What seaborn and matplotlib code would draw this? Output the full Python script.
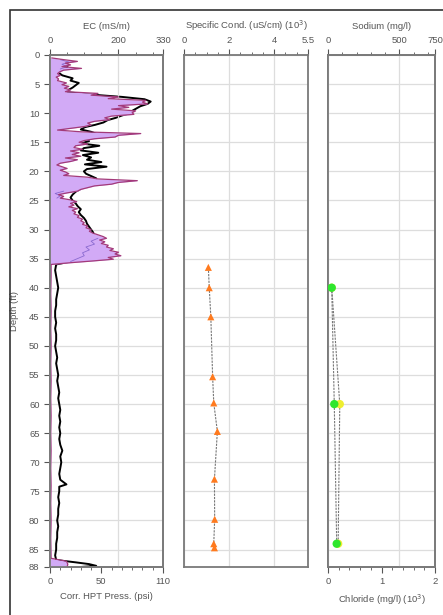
import matplotlib
matplotlib.use("Agg")
import matplotlib.pyplot as plt
from matplotlib.patches import Rectangle
from matplotlib.ticker import MultipleLocator
import seaborn as sns

# EC log (mS/m) vs depth (ft)
ec_depth = [0.5, 0.8, 1.1, 1.4, 1.7, 2.0, 2.3, 2.6, 2.9, 3.2, 3.5, 3.8, 4.1, 4.4, 4.8,
            5.1, 5.4, 5.7, 6.0, 6.3, 6.6, 6.9, 7.2, 7.5, 7.8, 8.1, 8.4, 8.7, 9.0, 9.3,
            9.6, 9.9, 10.2, 10.5, 10.8, 11.1, 11.4, 11.7, 12.0, 12.3, 12.6, 12.9, 13.2,
            13.5, 13.8, 14.1, 14.4, 14.7, 15.0, 15.3, 15.6, 15.9, 16.2, 16.5, 16.8, 17.1,
            17.4, 17.7, 18.0, 18.3, 18.6, 18.9, 19.2, 19.5, 19.8, 20.1, 20.4, 20.7, 21.0,
            21.3, 21.6, 21.9, 22.2, 22.5, 22.8, 23.1, 23.4, 23.7, 24.0, 24.3, 24.6, 24.9,
            25.2, 25.5, 25.8, 26.1, 26.4, 26.7, 27.0, 27.3, 27.6, 27.9, 28.2, 28.5, 28.8,
            29.1, 29.4, 29.7, 30.0, 30.3, 30.6, 30.9, 31.2, 31.5, 31.8, 32.1, 32.4, 32.7,
            33.0, 33.3, 33.6, 33.9, 34.2, 34.5, 34.8, 35.1, 35.4, 35.7, 36.0, 38.0, 41.0,
            44.0, 47.0, 50.0, 53.0, 56.0, 59.0, 62.0, 65.0, 68.0, 71.0, 74.0, 77.0, 80.0,
            83.0, 86.5, 87.0, 87.5, 88.0]
ec_vals = [5, 40, 80, 45, 60, 35, 92, 40, 28, 22, 30, 18, 25, 22, 48,
           35, 55, 42, 60, 45, 140, 120, 200, 170, 280, 270, 285, 200, 230, 180,
           250, 240, 245, 180, 160, 175, 130, 110, 120, 100, 60, 22, 90,
           265, 200, 190, 130, 100, 85, 110, 75, 70, 95, 60, 85, 65,
           90, 45, 80, 60, 30, 20, 35, 50, 30, 45, 55, 40, 110,
           140, 255, 200, 180, 130, 110, 90, 80, 50, 25, 40, 30, 60,
           78, 60, 70, 55, 80, 65, 75, 70, 85, 80, 95, 90, 100,
           95, 110, 105, 120, 115, 125, 140, 155, 165, 145, 160, 150, 170,
           165, 185, 175, 200, 190, 207, 170, 185, 125, 60, 3, 3, 2,
           3, 2, 3, 2, 3, 2, 3, 2, 3, 2, 3, 2, 3,
           2, 3, 48, 52, 50]

# second EC channel (lighter trace), three short stretches
ec2_top_depth = [0.8, 1.2, 1.6, 2.0, 2.4]
ec2_top_vals = [30, 55, 35, 50, 30]
ec2_mid_depth = [23.4, 23.8, 24.2, 24.6]
ec2_mid_vals = [40, 15, 30, 20]
ec2_low_depth = [31.5, 32.0, 32.5, 33.0, 33.5, 34.0, 34.5, 35.0, 35.5]
ec2_low_vals = [140, 120, 130, 105, 115, 95, 100, 80, 60]

# corrected HPT pressure (psi)
hpt_depth = [1.0, 1.5, 2.0, 2.5, 3.0, 3.5, 4.0, 4.4, 4.8, 5.2, 5.6, 6.0, 6.4, 6.8, 7.2,
             7.6, 8.0, 8.4, 8.8, 9.2, 9.6, 10.0, 10.4, 10.8, 11.2, 11.6, 12.0, 12.4, 12.8,
             13.2, 13.6, 14.0, 14.4, 14.8, 15.2, 15.6, 16.0, 16.4, 16.8, 17.2, 17.6, 18.0,
             18.4, 18.8, 19.2, 19.6, 20.0, 20.4, 20.8, 21.2, 21.6, 22.0, 22.5, 23.0, 23.5,
             24.0, 24.5, 25.0, 25.5, 26.0, 26.5, 27.0, 27.5, 28.0, 28.5, 29.0, 29.5, 30.0,
             30.5, 31.0, 31.5, 32.0, 32.5, 33.0, 33.5, 34.0, 34.5, 35.0, 35.5, 36.0, 37,
             38, 39, 40, 41, 42, 43, 44, 45, 46, 47, 48, 49, 50, 51, 52, 53, 54, 55, 56,
             57, 58, 59, 60, 61, 62, 63, 64, 65, 66, 67, 68, 69, 70, 71, 72, 73, 73.8,
             74.2, 75, 76, 77, 78, 79, 80, 81, 82, 83, 84, 85, 86, 86.8, 87.2, 87.5,
             87.8, 88.0]
hpt_vals = [12, 15, 17, 12, 8, 12, 22, 20, 28, 25, 22, 18, 17, 40, 70,
            92, 98, 95, 88, 84, 80, 78, 70, 64, 56, 52, 44, 34, 30,
            40, 46, 42, 35, 38, 30, 48, 33, 30, 47, 32, 40, 36,
            50, 34, 55, 36, 33, 35, 40, 45, 43, 40, 35, 30, 25,
            22, 20, 22, 25, 27, 30, 28, 30, 33, 35, 36, 38, 40,
            42, 43, 45, 45, 45, 45, 44, 44, 42, 40, 20, 6, 5,
            6, 7, 8, 7, 6, 6, 5, 5, 6, 5, 6, 6, 5, 6, 7, 6, 7, 8, 7,
            8, 9, 8, 9, 10, 9, 10, 9, 10, 9, 10, 12, 10, 11, 10, 9, 10, 16,
            9, 9, 8, 9, 8, 8, 7, 8, 7, 7, 6, 6, 5, 6, 25, 38,
            45, 30]

# specific conductance (uS/cm x 1000)
sc_depth = [36.5, 40.0, 45.0, 55.3, 59.8, 64.7, 72.9, 79.8, 84.0, 84.7]
sc_vals = [1.08, 1.12, 1.19, 1.27, 1.32, 1.48, 1.35, 1.36, 1.32, 1.35]

# sodium (mg/l) and chloride (mg/l x 1000)
chem_depth = [40, 60, 84]
sodium = [26, 44, 61]
chloride = [0.07, 0.22, 0.19]

depth_ticks = [0, 5, 10, 15, 20, 25, 30, 35, 40, 45, 50, 55, 60, 65, 70, 75, 80, 85, 88]

sns.set_style("white")
plt.rcParams['font.family'] = ['Liberation Sans', 'DejaVu Sans']
plt.rcParams['font.size'] = 6.8

txt = '#555555'
spine_c = '#7a7a7a'
grid_c = '#dddddd'

fig = plt.figure(figsize=(4.43, 6.15), dpi=100)
fig.add_artist(Rectangle((10 / 443, -0.05), 1.1, 1 - 10 / 615 + 0.05, transform=fig.transFigure,
                         fill=False, ec='#333333', lw=1.2))

bottom, height = 1 - 567 / 615, (567 - 55) / 615
ax1 = fig.add_axes([50 / 443, bottom, 113 / 443, height])
ax2 = fig.add_axes([184 / 443, bottom, 124 / 443, height])
ax3 = fig.add_axes([328 / 443, bottom, 107 / 443, height])


def style(ax, top, bot):
    for s in ax.spines.values():
        s.set_color(spine_c)
        s.set_linewidth(1.3)
    ax.tick_params(colors=txt, labelcolor=txt, labelsize=6.8, width=0.8, length=4,
                   top=top, bottom=bot, labeltop=top, labelbottom=bot)
    ax.tick_params(which='minor', colors=txt, width=0.6, length=2.5, top=top, bottom=bot)


# ---- panel 1: HPT pressure (bottom) + EC (top)
sns.lineplot(x=hpt_vals, y=hpt_depth, ax=ax1, orient='y', sort=False, estimator=None,
             color='black', lw=1.4)
ax1.set_xlim(0, 110)
ax1.set_xticks([0, 50, 110])
ax1.xaxis.set_minor_locator(MultipleLocator(10))
ax1.set_xlabel('Corr. HPT Press. (psi)', color=txt, labelpad=4)
ax1.set_ylabel('Depth (ft)', color=txt)
ax1.yaxis.set_label_coords(-0.27, 0.5)
ax1.set_ylim(88, 0)
ax1.set_yticks(depth_ticks)
ax1.grid(axis='y', color=grid_c, lw=0.9)
style(ax1, False, True)
ax1.tick_params(axis='y', left=True, length=4, color=txt)

ax1t = ax1.twiny()
ax1t.fill_betweenx(ec_depth, 0, ec_vals, color='#d2aaf6', lw=0)
for d, v in [(ec2_top_depth, ec2_top_vals), (ec2_mid_depth, ec2_mid_vals),
             (ec2_low_depth, ec2_low_vals)]:
    sns.lineplot(x=v, y=d, ax=ax1t, orient='y', sort=False, estimator=None,
                 color='#8a6ad0', lw=0.6)
sns.lineplot(x=ec_vals, y=ec_depth, ax=ax1t, orient='y', sort=False, estimator=None,
             color='#a33a7a', lw=0.9)
ax1t.set_xlim(0, 330)
ax1t.set_xticks([0, 200, 330])
ax1t.xaxis.set_minor_locator(MultipleLocator(50))
ax1t.set_xlabel('EC (mS/m)', color=txt, labelpad=5)
ax1t.xaxis.set_label_position('top')
ax1t.grid(axis='x', color=grid_c, lw=0.9)
ax1t.set_axisbelow(True)
ax1t.set_ylim(88, 0)
style(ax1t, True, False)

# ---- panel 2: specific conductance
sns.lineplot(x=sc_vals, y=sc_depth, ax=ax2, orient='y', sort=False, estimator=None,
             color='#777777', lw=0.8, linestyle=(0, (2, 1)))
sns.scatterplot(x=sc_vals, y=sc_depth, ax=ax2, marker='^', color='#ff7a1e', s=26,
                edgecolor='none', zorder=3)
ax2.set_xlim(0, 5.5)
ax2.set_xticks([0, 2, 4, 5.5])
ax2.set_xticklabels(['0', '2', '4', '5.5'])
ax2.xaxis.set_minor_locator(MultipleLocator(0.5))
ax2.xaxis.set_label_position('top')
ax2.set_xlabel('Specific Cond. (uS/cm) (10$^3$)', color=txt, labelpad=5)
ax2.set_ylim(88, 0)
ax2.set_yticks(depth_ticks)
ax2.set_yticklabels([])
ax2.grid(color=grid_c, lw=0.9)
style(ax2, True, False)
ax2.tick_params(axis='y', length=0)

# ---- panel 3: chloride (bottom) + sodium (top)
sns.lineplot(x=chloride, y=chem_depth, ax=ax3, orient='y', sort=False, estimator=None,
             color='#777777', lw=0.8, linestyle=(0, (2, 1)))
sns.scatterplot(x=chloride, y=chem_depth, ax=ax3, color='#eeee30', s=36, edgecolor='none',
                zorder=3)
ax3.set_xlim(0, 2)
ax3.set_xticks([0, 1, 2])
ax3.xaxis.set_minor_locator(MultipleLocator(0.2))
ax3.set_xlabel('Chloride (mg/l) (10$^3$)', color=txt, labelpad=4)
ax3.set_ylim(88, 0)
ax3.set_yticks(depth_ticks)
ax3.set_yticklabels([])
ax3.grid(axis='y', color=grid_c, lw=0.9)
style(ax3, False, True)
ax3.tick_params(axis='y', length=0)

ax3t = ax3.twiny()
sns.lineplot(x=sodium, y=chem_depth, ax=ax3t, orient='y', sort=False, estimator=None,
             color='#777777', lw=0.8, linestyle=(0, (2, 1)))
sns.scatterplot(x=sodium, y=chem_depth, ax=ax3t, color='#2ee62e', s=36, edgecolor='none',
                zorder=3)
ax3t.set_xlim(0, 750)
ax3t.set_xticks([0, 500, 750])
ax3t.xaxis.set_minor_locator(MultipleLocator(100))
ax3t.set_xlabel('Sodium (mg/l)', color=txt, labelpad=5)
ax3t.xaxis.set_label_position('top')
ax3t.grid(axis='x', color=grid_c, lw=0.9)
ax3t.set_axisbelow(True)
ax3t.set_ylim(88, 0)
style(ax3t, True, False)

fig.savefig('out.png', dpi=100)
